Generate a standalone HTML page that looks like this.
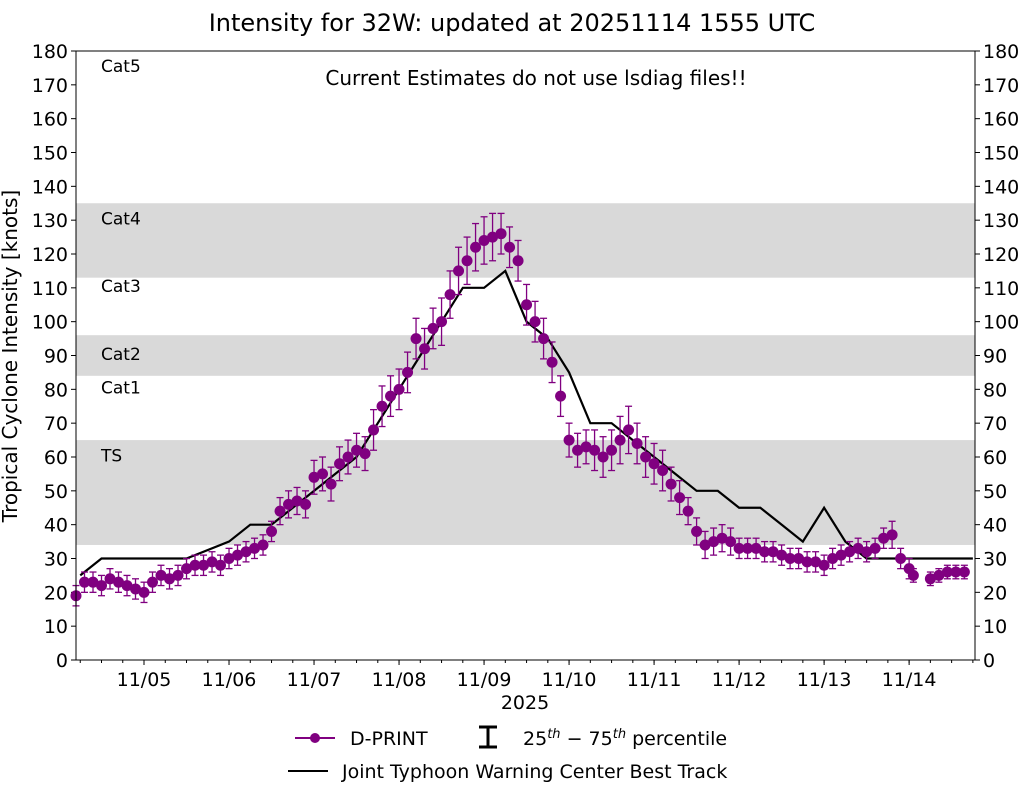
<!DOCTYPE html>
<html><head><meta charset="utf-8"><style>
body{margin:0;background:#fff;font-family:"Liberation Sans","DejaVu Sans",sans-serif}
svg text{font-family:"DejaVu Sans","Liberation Sans",sans-serif}
</style></head><body>
<svg id="c" width="1025" height="785" xmlns="http://www.w3.org/2000/svg">
<text x="512" y="31" font-size="24" text-anchor="middle">Intensity for 32W: updated at 20251114 1555 UTC</text>
<g id="plot"></g>
</svg>
<script>
const bandLow=[34,84,113];
const bandHigh=[65,96,135];
const catLabels=["Cat5","Cat4","Cat3","Cat2","Cat1","TS"];
const catValues=[175.5,130.5,110.5,90.5,80.5,60.5];
const yTicks=[0,10,20,30,40,50,60,70,80,90,100,110,120,130,140,150,160,170,180];
const xTickDays=[5,6,7,8,9,10,11,12,13,14];
const xTickLabels=["11/05","11/06","11/07","11/08","11/09","11/10","11/11","11/12","11/13","11/14"];
const btDays=[4.25,4.5,5,5.5,6,6.25,6.5,6.75,7,7.25,7.5,7.75,8,8.25,8.5,8.75,9,9.25,9.5,9.75,10,10.25,10.5,10.75,11,11.25,11.5,11.75,12,12.25,12.5,12.75,13,13.25,13.5,13.75,14,14.25,14.5,14.75];
const btVals=[25,30,30,30,35,40,40,45,50,55,60,70,80,90,100,110,110,115,100,95,85,70,70,65,60,55,50,50,45,45,40,35,45,35,30,30,30,30,30,30];
const dpDays=[4.2,4.3,4.4,4.5,4.6,4.7,4.8,4.9,5.0,5.1,5.2,5.3,5.4,5.5,5.6,5.7,5.8,5.9,6.0,6.1,6.2,6.3,6.4,6.5,6.6,6.7,6.8,6.9,7.0,7.1,7.2,7.3,7.4,7.5,7.6,7.7,7.8,7.9,8.0,8.1,8.2,8.3,8.4,8.5,8.6,8.7,8.8,8.9,9.0,9.1,9.2,9.3,9.4,9.5,9.6,9.7,9.8,9.9,10.0,10.1,10.2,10.3,10.4,10.5,10.6,10.7,10.8,10.9,11.0,11.1,11.2,11.3,11.4,11.5,11.6,11.7,11.8,11.9,12.0,12.1,12.2,12.3,12.4,12.5,12.6,12.7,12.8,12.9,13.0,13.1,13.2,13.3,13.4,13.5,13.6,13.7,13.8,13.9,14.0,14.05,14.25,14.35,14.45,14.55,14.65];
const dpVals=[19,23,23,22,24,23,22,21,20,23,25,24,25,27,28,28,29,28,30,31,32,33,34,38,44,46,47,46,54,55,52,58,60,62,61,68,75,78,80,85,95,92,98,100,108,115,118,122,124,125,126,122,118,105,100,95,88,78,65,62,63,62,60,62,65,68,64,60,58,56,52,48,44,38,34,35,36,35,33,33,33,32,32,31,30,30,29,29,28,30,31,32,33,32,33,36,37,30,27,25,24,25,26,26,26];
const dpErr=[3,3,3,3,3,3,3,3,3,3,3,3,3,3,3,3,3,3,3,3,3,3,3,3,4,4,4,4,5,5,5,5,5,5,5,6,6,6,6,6,6,6,6,7,7,7,7,7,7,7,6,6,6,6,6,6,6,6,5,5,5,6,6,6,7,7,6,6,6,6,5,5,4,4,4,4,4,4,3,3,3,3,3,3,3,3,3,3,3,3,3,3,3,3,3,3,4,3,3,2,2,2,2,2,2];
const X0=76,X1=975,Y0=660,Y1=51,D0=4.2,D1=14.775;
const xs=d=>X0+(d-D0)/(D1-D0)*(X1-X0);
const ys=v=>Y0-v/180*(Y0-Y1);
const g=document.getElementById('plot');const NS="http://www.w3.org/2000/svg";
function mk(t,a,txt){const e=document.createElementNS(NS,t);for(const k in a)e.setAttribute(k,a[k]);if(txt!==undefined)e.textContent=txt;g.appendChild(e);return e;}
bandLow.forEach((lo,i)=>{const e=mk('rect',{x:X0,y:ys(bandHigh[i]),width:X1-X0,height:ys(lo)-ys(bandHigh[i]),fill:'#d9d9d9'});

});
catLabels.forEach((c,i)=>{const e=mk('text',{x:101,y:ys(catValues[i])+6,'font-size':17},c);

});
let e=mk('text',{x:536,y:85,'font-size':20,'text-anchor':'middle'},'Current Estimates do not use lsdiag files!!');


yTicks.forEach(v=>{const y=ys(v);
mk('line',{x1:X0-5,x2:X0,y1:y,y2:y,stroke:'#000'});mk('line',{x1:X1,x2:X1+5,y1:y,y2:y,stroke:'#000'});
const a=mk('text',{x:X0-8,y:y+7,'font-size':19,'text-anchor':'end'},v);


const b=mk('text',{x:X1+8,y:y+7,'font-size':19},v);

});
xTickDays.forEach((d,i)=>{const x=xs(d);mk('line',{x1:x,x2:x,y1:Y0,y2:Y0+5,stroke:'#000'});
const a=mk('text',{x:x,y:Y0+26,'font-size':19,'text-anchor':'middle'},xTickLabels[i]);

});
for(let d=4.25;d<14.8;d+=0.25){const x=xs(d);mk('line',{x1:x,x2:x,y1:Y0,y2:Y0+3,stroke:'#000'});}
e=mk('text',{x:525,y:709,'font-size':19,'text-anchor':'middle'},'2025');


e=mk('text',{x:0,y:0,'font-size':20,'text-anchor':'middle',transform:'translate(17,356) rotate(-90)'},'Tropical Cyclone Intensity [knots]');


e=mk('polyline',{points:btDays.map((d,i)=>xs(d)+','+ys(btVals[i])).join(' '),fill:'none',stroke:'#000','stroke-width':2.2});


dpDays.forEach((d,i)=>{const x=xs(d),yh=ys(dpVals[i]+dpErr[i]),yl=ys(dpVals[i]-dpErr[i]);
mk('line',{x1:x,x2:x,y1:yh,y2:yl,stroke:'#800080','stroke-width':1.3});
mk('line',{x1:x-3.5,x2:x+3.5,y1:yh,y2:yh,stroke:'#800080','stroke-width':1.3});
mk('line',{x1:x-3.5,x2:x+3.5,y1:yl,y2:yl,stroke:'#800080','stroke-width':1.3});
const c=mk('circle',{cx:x,cy:ys(dpVals[i]),r:5.5,fill:'#800080'});

});
e=mk('rect',{x:X0,y:Y1,width:X1-X0,height:Y0-Y1,fill:'none',stroke:'#000','stroke-width':1});


mk('line',{x1:295,x2:335,y1:738,y2:738,stroke:'#800080','stroke-width':2});
mk('circle',{cx:315,cy:738,r:5,fill:'#800080'});
e=mk('text',{x:350,y:745,'font-size':19},'D-PRINT');


mk('line',{x1:488,x2:488,y1:727,y2:747,stroke:'#000','stroke-width':3});
mk('line',{x1:479,x2:497,y1:727,y2:727,stroke:'#000','stroke-width':3});
mk('line',{x1:479,x2:497,y1:747,y2:747,stroke:'#000','stroke-width':3});
e=mk('text',{x:523,y:745,'font-size':19});
e.innerHTML='25<tspan dy="-7" font-size="13" font-style="italic">th</tspan><tspan dy="7"> − 75</tspan><tspan dy="-7" font-size="13" font-style="italic">th</tspan><tspan dy="7"> percentile</tspan>';


mk('line',{x1:288,x2:328,y1:771,y2:771,stroke:'#000','stroke-width':2});
e=mk('text',{x:342,y:778,'font-size':19},'Joint Typhoon Warning Center Best Track');


</script>
</body></html>
